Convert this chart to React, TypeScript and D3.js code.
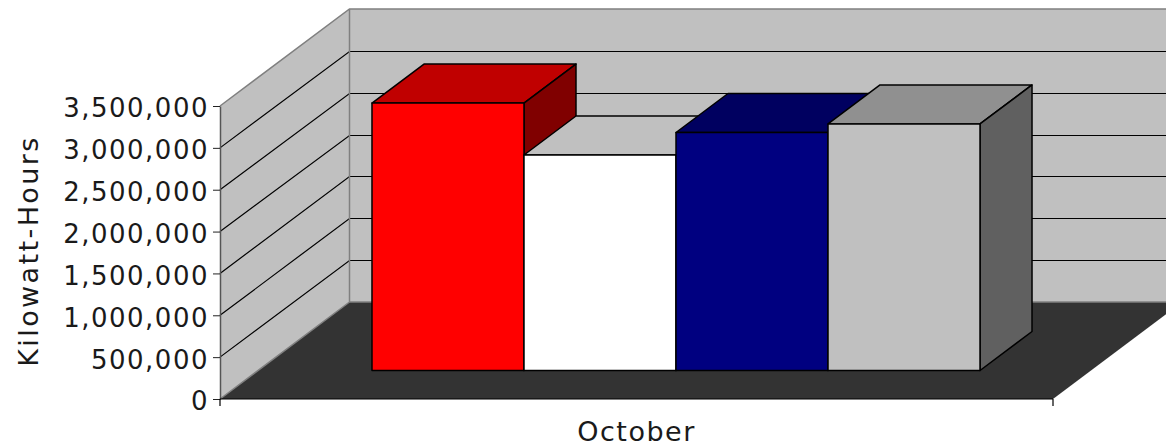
import { useEffect, useRef } from 'react';
import * as d3 from 'd3';

const categories = ['October'];
const seriesNames = ['A', 'B', 'C', 'D'];
const seriesValues = [3195000, 2574000, 2843000, 2945000];
const tickValues = [0, 500000, 1000000, 1500000, 2000000, 2500000, 3000000, 3500000];
const frontColors = ['#ff0000', '#ffffff', '#000080', '#c0c0c0'];
const topColors = ['#c00000', '#c0c0c0', '#000060', '#909090'];
const sideColors = ['#800000', '#808080', '#000040', '#606060'];

const width = 1166;
const height = 447;
const fontFamily = '"DejaVu Sans", Verdana, sans-serif';

export default function App() {
  const svgRef = useRef<SVGSVGElement>(null);

  useEffect(() => {
    if (!svgRef.current) return;

    const svg = d3.select(svgRef.current);
    svg.selectAll('*').remove();

    const plot = { left: 220, right: 1053, top: 106, bottom: 399 };
    // how far the back wall sits from the front axes
    const wall = { dx: 129.5, dy: -97 };
    // bars sit part way into the floor
    const barOffset = { dx: 39.5, dy: -28.5 };
    const barDepth = { dx: 52, dy: -39 };

    const yScale = d3.scaleLinear().domain([0, 3500000]).range([plot.bottom, plot.top]);
    const xScale = d3
      .scaleBand()
      .domain(categories)
      .range([plot.left, plot.right])
      .paddingOuter(0.185)
      .paddingInner(0);
    const seriesScale = d3
      .scaleBand()
      .domain(seriesNames)
      .range([0, xScale.bandwidth()]);

    const pts = (list: number[][]) => list.map(p => p.join(',')).join(' ');
    const yTop = yScale(3500000);

    // walls and floor
    svg.append('polygon')
      .attr('points', pts([
        [plot.left + wall.dx, yTop + wall.dy],
        [plot.right + wall.dx, yTop + wall.dy],
        [plot.right + wall.dx, plot.bottom + wall.dy],
        [plot.left + wall.dx, plot.bottom + wall.dy],
      ]))
      .attr('fill', '#c0c0c0');
    svg.append('polygon')
      .attr('points', pts([
        [plot.left, yTop],
        [plot.left + wall.dx, yTop + wall.dy],
        [plot.left + wall.dx, plot.bottom + wall.dy],
        [plot.left, plot.bottom],
      ]))
      .attr('fill', '#c0c0c0');
    svg.append('polygon')
      .attr('points', pts([
        [plot.left, plot.bottom],
        [plot.right, plot.bottom],
        [plot.right + wall.dx, plot.bottom + wall.dy],
        [plot.left + wall.dx, plot.bottom + wall.dy],
      ]))
      .attr('fill', '#333333');

    // gridlines
    const inner = tickValues.slice(1, -1);
    svg.append('g')
      .selectAll('path')
      .data(inner)
      .join('path')
      .attr('d', d => {
        const y = yScale(d);
        const yBack = Math.round(y + wall.dy) + 0.5;
        return `M${plot.left},${y}L${plot.left + wall.dx},${yBack}L${plot.right + wall.dx},${yBack}`;
      })
      .attr('fill', 'none')
      .attr('stroke', '#000000')
      .attr('stroke-width', 1.2);

    // wall edges
    svg.append('path')
      .attr('d', `M${plot.left},${yTop}L${plot.left + wall.dx},${yTop + wall.dy}L${plot.right + wall.dx},${yTop + wall.dy}M${plot.left + wall.dx},${yTop + wall.dy}L${plot.left + wall.dx},${plot.bottom + wall.dy}L${plot.right + wall.dx},${plot.bottom + wall.dy}M${plot.left},${plot.bottom}L${plot.left + wall.dx},${plot.bottom + wall.dy}`)
      .attr('fill', 'none')
      .attr('stroke', '#808080')
      .attr('stroke-width', 1.5);

    // bars, left to right so each one overlaps the one before
    const bars = svg.append('g')
      .attr('transform', `translate(${barOffset.dx},${barOffset.dy})`)
      .attr('stroke', '#000000')
      .attr('stroke-width', 1.5)
      .attr('stroke-linejoin', 'round');

    seriesNames.forEach((name, i) => {
      const x0 = (xScale(categories[0]) || 0) + (seriesScale(name) || 0);
      const x1 = x0 + seriesScale.bandwidth();
      const yBase = yScale(0);
      const yVal = yScale(seriesValues[i]);
      const { dx, dy } = barDepth;

      bars.append('polygon')
        .attr('points', pts([[x0, yVal], [x0 + dx, yVal + dy], [x1 + dx, yVal + dy], [x1, yVal]]))
        .attr('fill', topColors[i]);
      bars.append('polygon')
        .attr('points', pts([[x1, yVal], [x1 + dx, yVal + dy], [x1 + dx, yBase + dy], [x1, yBase]]))
        .attr('fill', sideColors[i]);
      bars.append('rect')
        .attr('x', x0)
        .attr('y', yVal)
        .attr('width', x1 - x0)
        .attr('height', yBase - yVal)
        .attr('fill', frontColors[i]);
    });

    // axes
    const yAxis = svg.append('g')
      .attr('transform', `translate(${plot.left},0)`)
      .call(
        d3.axisLeft(yScale)
          .tickValues(tickValues)
          .tickFormat(d => d3.format(',')(d as number))
          .tickSize(7)
          .tickSizeOuter(0)
          .tickPadding(4)
      );
    yAxis.select('.domain').attr('stroke', '#555555').attr('stroke-width', 1.5);
    yAxis.selectAll('.tick line').attr('stroke', '#222222');

    svg.append('path')
      .attr('d', `M${plot.left},${plot.bottom}H${plot.right}M${plot.left},${plot.bottom}v7M${plot.right},${plot.bottom}v7`)
      .attr('fill', 'none')
      .attr('stroke', '#000000')
      .attr('stroke-width', 1.2);

    yAxis.selectAll('text')
      .attr('dy', '0.42em')
      .style('font-family', fontFamily)
      .style('font-size', '26px')
      .style('letter-spacing', '1.5px')
      .style('fill', '#1a1a1a');

    svg.append('text')
      .attr('x', (plot.left + plot.right) / 2)
      .attr('y', 441)
      .attr('text-anchor', 'middle')
      .style('font-family', fontFamily)
      .style('font-size', '27px')
      .style('letter-spacing', '1.5px')
      .style('fill', '#1a1a1a')
      .text(categories[0]);

    svg.append('text')
      .attr('transform', 'translate(38,251) rotate(-90)')
      .attr('text-anchor', 'middle')
      .style('font-family', fontFamily)
      .style('font-size', '27px')
      .style('letter-spacing', '2.4px')
      .style('fill', '#1a1a1a')
      .text('Kilowatt-Hours');
  }, []);

  return (
    <svg
      ref={svgRef}
      width={width}
      height={height}
      style={{ position: 'absolute', left: 0, top: 0, display: 'block', background: '#ffffff' }}
    />
  );
}
